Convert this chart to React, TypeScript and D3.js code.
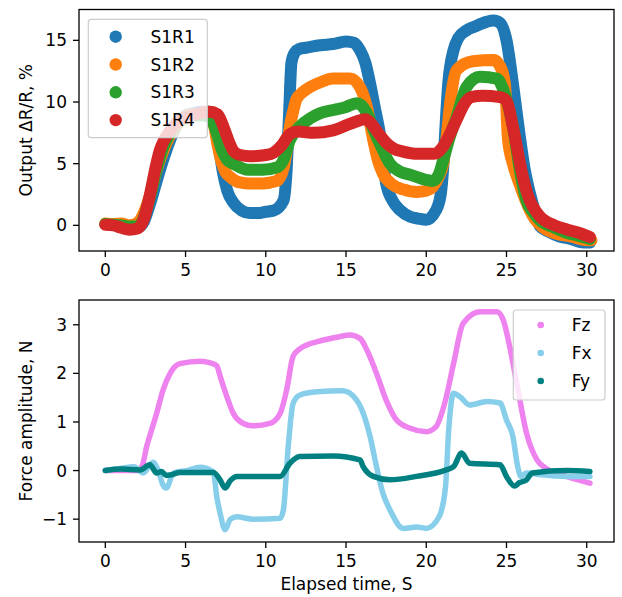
import React from "react";
import * as d3 from "d3";

// ---------- Data ----------
const s1r1T = [0, 0.5, 1, 1.5, 2, 2.4, 2.8, 3.2, 3.6, 4.0, 4.5, 5.0, 5.5, 6.0, 6.5, 6.8, 7.0, 7.3, 7.6, 8.0, 8.5, 9.0, 9.5, 10.0, 10.5, 11.1, 11.3, 11.45, 11.6, 11.8, 12.1, 12.5, 13.4, 14.2, 15.0, 15.5, 15.87, 16.2, 16.5, 16.8, 17.1, 17.5, 17.9, 18.36, 19.0, 19.5, 20.0, 20.6, 20.9, 21.06, 21.2, 21.37, 21.7, 22.0, 22.5, 23.0, 23.76, 24.2, 24.6, 25.0, 25.4, 25.8, 26.1, 26.46, 26.8, 27.1, 27.6, 28.3, 29.0, 29.6, 30.2];
const s1r1V = [0.1, 0.05, -0.1, -0.25, -0.2, 0.3, 1.8, 3.6, 5.3, 6.8, 8.2, 8.9, 9.1, 9.2, 9.2, 8.8, 7.3, 4.5, 2.8, 1.8, 1.2, 1.0, 1.0, 1.1, 1.2, 2.0, 4.5, 9.0, 13.2, 14.0, 14.3, 14.4, 14.6, 14.7, 14.9, 14.8, 14.2, 13.2, 11.5, 9.5, 7.5, 3.4, 2.0, 1.24, 0.7, 0.55, 0.45, 1.2, 2.5, 4.75, 8.0, 11.5, 14.2, 15.2, 15.8, 16.1, 16.5, 16.6, 16.4, 15.0, 11.5, 7.5, 4.8, 2.6, 1.0, -0.1, -0.5, -0.9, -1.1, -1.35, -1.4];

const s1r2T = [0, 0.5, 1.0, 1.5, 2.0, 2.4, 2.8, 3.2, 3.6, 4.0, 4.5, 5.0, 5.5, 6.0, 6.5, 6.74, 7.0, 7.15, 7.5, 7.8, 8.3, 8.9, 9.8, 10.7, 11.1, 11.3, 11.5, 11.7, 11.9, 12.3, 12.75, 13.4, 14.2, 15.25, 15.87, 16.3, 16.7, 17.0, 17.3, 17.9, 18.6, 19.4, 20.0, 20.4, 20.8, 21.06, 21.3, 21.5, 21.9, 22.9, 24.2, 24.6, 24.9, 25.1, 25.4, 25.8, 26.2, 26.67, 27.3, 27.9, 29.0, 30.0, 30.3];
const s1r2V = [0.15, 0.1, 0.15, 0.0, 0.2, 1.0, 2.5, 4.5, 6.0, 7.2, 8.2, 8.8, 9.0, 9.0, 8.8, 8.3, 6.5, 5.6, 4.3, 3.9, 3.5, 3.4, 3.4, 3.6, 4.6, 6.0, 8.0, 9.2, 10.2, 10.8, 11.2, 11.6, 11.9, 11.9, 11.2, 9.6, 6.9, 5.2, 4.2, 3.3, 2.9, 2.7, 2.8, 3.1, 4.0, 5.0, 7.5, 10.0, 12.6, 13.3, 13.4, 12.9, 11.5, 6.9, 5.0, 3.4, 2.0, 0.7, -0.2, -0.6, -0.9, -1.2, -1.2];

const s1r3T = [0, 0.5, 1.0, 1.5, 2.0, 2.4, 2.8, 3.2, 3.6, 4.0, 4.5, 5.0, 5.5, 6.0, 6.5, 6.94, 7.3, 7.6, 7.97, 8.9, 9.8, 10.7, 11.1, 11.5, 12.1, 12.8, 13.4, 14.2, 15.0, 15.66, 16.3, 16.7, 17.1, 17.74, 18.3, 19.0, 20.4, 20.8, 21.06, 21.5, 21.9, 22.5, 23.35, 24.4, 24.8, 25.4, 25.9, 26.25, 26.7, 27.1, 28.0, 28.75, 29.5, 30.2];
const s1r3V = [0.1, 0.05, 0.0, -0.1, -0.1, 0.6, 2.4, 4.6, 6.3, 7.4, 8.3, 8.7, 8.9, 8.9, 8.8, 7.5, 6.0, 5.3, 5.0, 4.5, 4.5, 4.7, 5.3, 6.9, 8.0, 8.7, 9.1, 9.35, 9.6, 9.9, 9.1, 7.8, 6.65, 5.0, 4.4, 4.1, 3.6, 4.2, 5.3, 7.3, 8.8, 11.2, 12.05, 11.9, 11.0, 8.0, 4.0, 2.0, 1.0, 0.4, -0.2, -0.6, -0.85, -1.1];

const s1r4T = [0, 0.5, 1.0, 1.5, 2.0, 2.4, 2.8, 3.1, 3.4, 3.7, 4.0, 4.6, 5.2, 5.9, 6.5, 7.0, 7.36, 7.7, 8.0, 8.4, 9.0, 10.0, 10.5, 11.0, 11.5, 12.0, 13.0, 14.2, 15.0, 15.6, 16.2, 16.6, 17.0, 17.5, 18.0, 18.5, 19.5, 20.5, 21.0, 21.4, 21.9, 22.4, 22.8, 23.5, 24.6, 25.0, 25.4, 25.8, 26.1, 26.46, 26.8, 27.1, 28.0, 28.8, 29.5, 30.2];
const s1r4V = [0.05, 0.0, -0.2, -0.35, -0.25, 0.5, 2.6, 4.5, 6.1, 7.0, 7.6, 8.5, 8.8, 9.1, 9.2, 9.0, 8.0, 6.8, 6.0, 5.7, 5.6, 5.7, 5.9, 6.5, 7.4, 7.6, 7.5, 7.7, 8.1, 8.4, 8.6, 8.2, 7.5, 6.7, 6.2, 6.0, 5.8, 5.8, 6.3, 7.2, 8.6, 9.9, 10.4, 10.5, 10.4, 10.1, 8.0, 5.3, 3.5, 2.0, 1.2, 0.7, 0.0, -0.35, -0.6, -0.95];

const fzT = [0, 1, 2, 2.3, 2.58, 2.9, 3.2, 3.6, 4.04, 4.65, 5.9, 6.5, 6.94, 7.15, 7.36, 7.65, 7.97, 8.6, 9.2, 10.26, 10.9, 11.3, 11.7, 12.1, 13.4, 14.5, 15.25, 15.87, 16.3, 16.9, 17.5, 18.15, 19.0, 20.0, 20.6, 21.2, 21.7, 22.3, 23.35, 24.4, 24.8, 25.2, 25.6, 26.25, 26.9, 27.5, 28.75, 30.2];
const fzV = [0, 0.0, 0.0, 0.1, 0.5, 0.85, 1.18, 1.66, 2.0, 2.2, 2.25, 2.22, 2.16, 1.95, 1.73, 1.45, 1.18, 0.97, 0.92, 0.97, 1.18, 1.66, 2.35, 2.5, 2.67, 2.75, 2.79, 2.72, 2.48, 2.0, 1.45, 1.04, 0.87, 0.8, 0.9, 1.45, 2.2, 3.03, 3.27, 3.27, 3.1, 2.55, 1.87, 0.77, 0.22, 0.04, -0.12, -0.26];

const fxT = [0, 1.0, 1.8, 2.36, 2.97, 3.3, 3.6, 3.8, 4.25, 5.07, 5.9, 6.74, 6.94, 7.15, 7.46, 7.8, 8.2, 9.2, 10.9, 11.1, 11.4, 11.7, 12.1, 13.2, 14.8, 15.66, 16.07, 16.5, 16.9, 17.3, 17.74, 18.57, 19.4, 20.0, 20.8, 21.2, 21.4, 21.7, 22.1, 22.7, 23.8, 24.6, 25.0, 25.4, 25.7, 25.9, 26.25, 27.0, 28.75, 30.2];
const fxV = [0, 0.05, 0.08, -0.05, 0.17, 0.0, -0.3, -0.36, -0.05, 0.0, 0.07, -0.03, -0.53, -0.87, -1.22, -1.0, -0.95, -1.0, -0.98, -0.8, 0.5, 1.38, 1.55, 1.62, 1.64, 1.45, 1.18, 0.7, 0.08, -0.47, -0.81, -1.19, -1.16, -1.19, -0.95, -0.33, 0.84, 1.59, 1.52, 1.35, 1.42, 1.39, 1.04, 0.7, 0.08, -0.12, -0.05, -0.08, -0.12, -0.12];

const fyT = [0, 1.0, 2.16, 2.78, 3.2, 3.5, 3.8, 4.04, 4.65, 6.74, 7.15, 7.46, 7.8, 8.2, 10.9, 11.5, 12.1, 14.2, 15.87, 16.07, 16.7, 17.74, 19.4, 21.2, 21.7, 22.2, 22.7, 24.6, 25.0, 25.5, 25.8, 26.25, 26.6, 28.75, 30.2];
const fyV = [0, 0.03, 0.01, 0.12, -0.05, -0.02, -0.1, -0.09, -0.04, -0.04, -0.19, -0.36, -0.2, -0.12, -0.12, 0.15, 0.29, 0.3, 0.22, 0.08, -0.12, -0.19, -0.12, 0.01, 0.08, 0.36, 0.15, 0.12, -0.12, -0.32, -0.25, -0.19, -0.05, 0.0, -0.02];

const topNames = ["S1R1", "S1R2", "S1R3", "S1R4"];
const topColors = ["#1f77b4", "#ff7f0e", "#2ca02c", "#d62728"];
const botNames = ["Fz", "Fx", "Fy"];
const botColors = ["violet", "skyblue", "teal"];

const xTicks = [0, 5, 10, 15, 20, 25, 30];
const topYTicks = [0, 5, 10, 15];
const botYTicks = [-1, 0, 1, 2, 3];

const xLabel = "Elapsed time, S";
const topYLabel = "Output \u0394R/R, %";
const botYLabel = "Force amplitude, N";

// ---------- Layout ----------
const W = 622, H = 597;
const L = 79, R = 614;
const topBox = { t: 9.5, b: 251 };
const botBox = { t: 300, b: 542 };
const FONT = "'DejaVu Sans', sans-serif";
const FS = 17;

const x = d3.scaleLinear().domain([-1.64, 31.7]).range([L, R]);
const yTop = d3.scaleLinear().domain([-2.08, 17.5]).range([topBox.b, topBox.t]);
const yBot = d3.scaleLinear().domain([-1.47, 3.51]).range([botBox.b, botBox.t]);

function zip(t: number[], v: number[]) {
  return t.map((tt, i) => [tt, v[i]] as [number, number]);
}

const topSeries = [zip(s1r1T, s1r1V), zip(s1r2T, s1r2V), zip(s1r3T, s1r3V), zip(s1r4T, s1r4V)];
const botSeries = [zip(fzT, fzV), zip(fxT, fxV), zip(fyT, fyV)];

function Axes({ y, box, yTicks, label }: any) {
  const h = box.b - box.t;
  return (
    <g>
      {xTicks.map((t) => (
        <g key={"x" + t}>
          <line x1={x(t)} x2={x(t)} y1={box.b} y2={box.b + 6} stroke="#000" strokeWidth={1.3} />
          <text x={x(t)} y={box.b + 25} textAnchor="middle" fontSize={FS} fontFamily={FONT} fill="#000">{t}</text>
        </g>
      ))}
      {yTicks.map((t: number) => (
        <g key={"y" + t}>
          <line x1={L - 6} x2={L} y1={y(t)} y2={y(t)} stroke="#000" strokeWidth={1.3} />
          <text x={L - 12} y={y(t)} dy="0.36em" textAnchor="end" fontSize={FS} fontFamily={FONT} fill="#000">{t < 0 ? "\u2212" + Math.abs(t) : t}</text>
        </g>
      ))}
      <text transform={`translate(${26},${box.t + h / 2}) rotate(-90)`} textAnchor="middle" dy="0.36em" fontSize={FS} fontFamily={FONT} fill="#000">{label}</text>
    </g>
  );
}

export default function App() {
  const lineTop = d3.line<[number, number]>().x((d) => x(d[0])).y((d) => yTop(d[1])).curve(d3.curveMonotoneX);
  const lineBot = d3.line<[number, number]>().x((d) => x(d[0])).y((d) => yBot(d[1])).curve(d3.curveMonotoneX);
  return (
    <svg width={W} height={H} style={{ position: "absolute", left: 0, top: 0, background: "#fff" }}>
      <rect x={0} y={0} width={W} height={H} fill="#fff" />
      <defs>
        <clipPath id="ct"><rect x={L} y={topBox.t} width={R - L} height={topBox.b - topBox.t} /></clipPath>
        <clipPath id="cb"><rect x={L} y={botBox.t} width={R - L} height={botBox.b - botBox.t} /></clipPath>
      </defs>
      {/* top panel */}
      <g clipPath="url(#ct)">
        {topSeries.map((s, i) => (
          <path key={i} d={lineTop(s) || ""} fill="none" stroke={topColors[i]} strokeWidth={12} strokeLinecap="round" strokeLinejoin="round" />
        ))}
      </g>
      <rect x={L} y={topBox.t} width={R - L} height={topBox.b - topBox.t} fill="none" stroke="#000" strokeWidth={1.3} />
      <Axes y={yTop} box={topBox} yTicks={topYTicks} label={topYLabel} />
      <g>
        <rect x={88.3} y={19.3} width={119} height={118.4} rx={3} fill="#fff" fillOpacity={0.8} stroke="#ccc" strokeWidth={1.2} />
        {topNames.map((n, i) => (
          <g key={n}>
            <circle cx={115.7} cy={36.7 + i * 27.8} r={6.2} fill={topColors[i]} />
            <text x={150.5} y={36.7 + i * 27.8} dy="0.36em" fontSize={FS} fontFamily={FONT} fill="#000">{n}</text>
          </g>
        ))}
      </g>

      {/* bottom panel */}
      <g clipPath="url(#cb)">
        {botSeries.map((s, i) => (
          <path key={i} d={lineBot(s) || ""} fill="none" stroke={botColors[i]} strokeWidth={5.5} strokeLinecap="round" strokeLinejoin="round" />
        ))}
      </g>
      <rect x={L} y={botBox.t} width={R - L} height={botBox.b - botBox.t} fill="none" stroke="#000" strokeWidth={1.3} />
      <Axes y={yBot} box={botBox} yTicks={botYTicks} label={botYLabel} />
      <g>
        <rect x={513.3} y={310} width={91.7} height={90} rx={3} fill="#fff" fillOpacity={0.8} stroke="#ccc" strokeWidth={1.2} />
        {botNames.map((n, i) => (
          <g key={n}>
            <circle cx={540.7} cy={325 + i * 28} r={3.3} fill={botColors[i]} />
            <text x={571.7} y={325 + i * 28} dy="0.36em" fontSize={FS} fontFamily={FONT} fill="#000">{n}</text>
          </g>
        ))}
      </g>
      <text x={(L + R) / 2} y={590} textAnchor="middle" fontSize={FS} fontFamily={FONT} fill="#000">{xLabel}</text>
    </svg>
  );
}
